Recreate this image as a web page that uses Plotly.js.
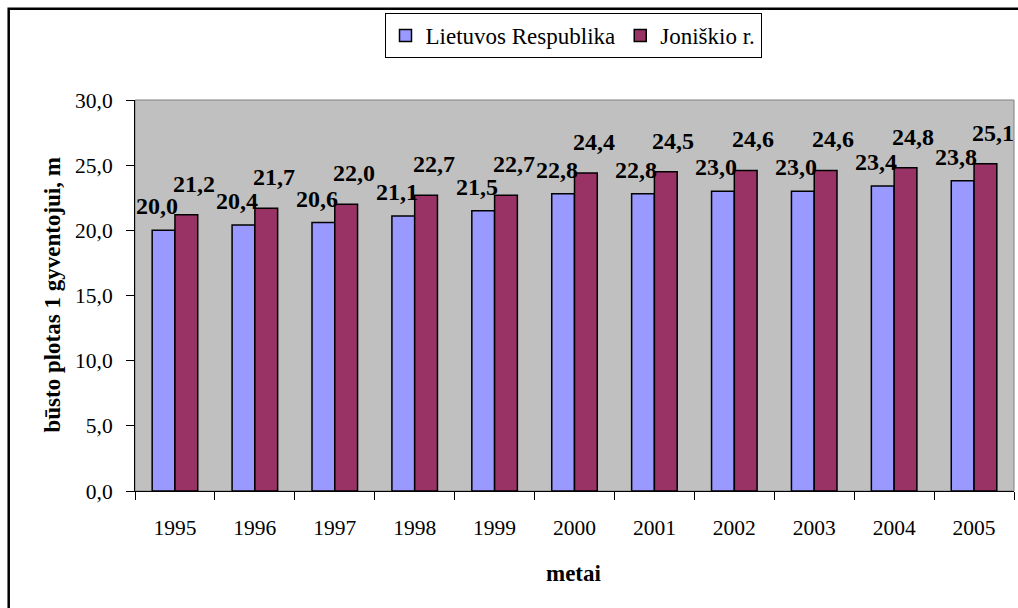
<!DOCTYPE html>
<html>
<head>
<meta charset="utf-8">
<script src="https://cdn.plot.ly/plotly-3.0.1.min.js"></script>
<style>
html,body{margin:0;padding:0;background:#fff;}
#chart{width:1018px;height:608px;}
</style>
</head>
<body>
<div id="chart"></div>
<script>
const years = ['1995','1996','1997','1998','1999','2000','2001','2002','2003','2004','2005'];
const lietuva = [20.0, 20.4, 20.6, 21.1, 21.5, 22.8, 22.8, 23.0, 23.0, 23.4, 23.8];
const joniskis = [21.2, 21.7, 22.0, 22.7, 22.7, 24.4, 24.5, 24.6, 24.6, 24.8, 25.1];
const seriesNames = ['Lietuvos Respublika', 'Joniškio r.'];
const yTitle = 'būsto plotas 1 gyventojui, m';
const xTitle = 'metai';

const FONT = 'Times New Roman, Liberation Serif, DejaVu Serif, Noto Serif, serif';
const fmt = v => v.toFixed(1).replace('.', ',');

const traces = [
  {type:'bar', name:seriesNames[0], x:years, y:lietuva,
   marker:{color:'#9999FF', line:{color:'#000000', width:1.5}}, hoverinfo:'none'},
  {type:'bar', name:seriesNames[1], x:years, y:joniskis,
   marker:{color:'#993366', line:{color:'#000000', width:1.5}}, hoverinfo:'none'}
];

// plot area in px: left 135, right 1014, top 100, bottom 491
const L=135, R=1014, T=100, B=491;
const px2x = p => (p - L) / (R - L);
const px2y = p => (B - p) / (B - T);

const annotations = [];
years.forEach((yr, i) => {
  annotations.push({x:i, y:lietuva[i], xref:'x', yref:'y', text:'<b>' + fmt(lietuva[i]) + '</b>',
    showarrow:false, xanchor:'center', yanchor:'bottom', xshift:-18, yshift:9,
    font:{family:FONT, size:24, color:'#000'}});
  annotations.push({x:i, y:joniskis[i], xref:'x', yref:'y', text:'<b>' + fmt(joniskis[i]) + '</b>',
    showarrow:false, xanchor:'center', yanchor:'bottom', xshift:19, yshift:16,
    font:{family:FONT, size:24, color:'#000'}});
});
annotations.push({xref:'paper', yref:'paper', x:px2x(574), y:px2y(573), xanchor:'center', yanchor:'middle',
  text:'<b>' + xTitle + '</b>', showarrow:false, font:{family:FONT, size:23, color:'#000'}});
annotations.push({xref:'paper', yref:'paper', x:px2x(52), y:px2y(295.5), xanchor:'center', yanchor:'middle',
  textangle:-90, text:'<b>' + yTitle + '</b>', showarrow:false, font:{family:FONT, size:23, color:'#000'}});

const layout = {
  width:1018, height:608,
  margin:{l:L, r:1018-R, t:T, b:608-B, pad:0},
  paper_bgcolor:'#ffffff',
  plot_bgcolor:'#C0C0C0',
  separators:', ',
  font:{family:FONT, color:'#000'},
  barmode:'group',
  bargap:0.43,
  bargroupgap:0,
  showlegend:true,
  legend:{orientation:'h', x:px2x(573), y:px2y(35.5), xanchor:'center', yanchor:'middle',
    bgcolor:'#ffffff', bordercolor:'#000000', borderwidth:1,
    font:{family:FONT, size:23, color:'#000'}, itemwidth:30, traceorder:'normal'},
  xaxis:{type:'category', categoryorder:'array', categoryarray:years,
    range:[-0.5, years.length - 0.5], autorange:false,
    tickson:'boundaries', ticks:'outside', ticklen:8, tickwidth:1,
    tickcolor:'#000', showline:true, linecolor:'#000', linewidth:1, showgrid:false,
    zeroline:false, tickangle:0, tickfont:{family:FONT, size:21.5, color:'#000'}, ticklabelstandoff:17,
    automargin:false, fixedrange:true},
  yaxis:{range:[0,30], autorange:false, dtick:5, tickformat:'.1f', ticks:'outside', ticklen:8, tickwidth:1,
    tickcolor:'#000', showline:true, linecolor:'#000', linewidth:1, showgrid:false,
    zeroline:false, tickfont:{family:FONT, size:21.5, color:'#000'}, ticklabelstandoff:9,
    automargin:false, fixedrange:true},
  annotations:annotations,
  shapes:[
    {type:'rect', xref:'paper', yref:'paper', x0:0, x1:1, y0:0, y1:1,
     line:{color:'#808080', width:1}, fillcolor:'rgba(0,0,0,0)', layer:'below'},
    {type:'rect', xref:'paper', yref:'paper', x0:px2x(8.7), x1:px2x(1030), y0:px2y(620), y1:px2y(8.7),
     line:{color:'#000000', width:2.5}, fillcolor:'rgba(0,0,0,0)', layer:'above'}
  ]
};

Plotly.newPlot('chart', traces, layout, {staticPlot:true, displayModeBar:false});
</script>
</body>
</html>
